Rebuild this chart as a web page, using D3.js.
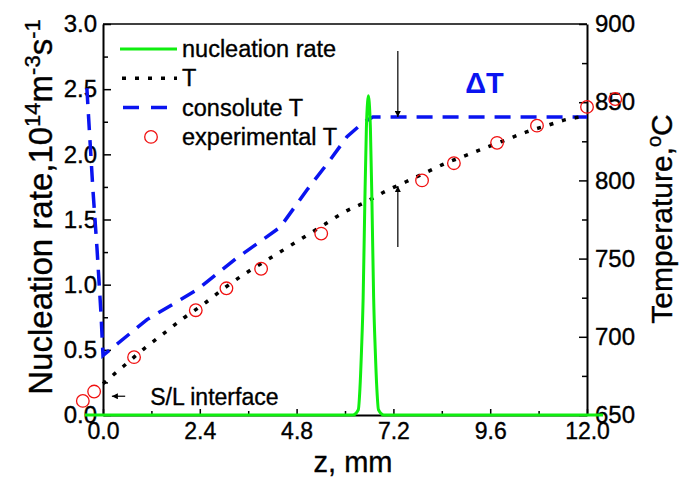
<!DOCTYPE html>
<html>
<head>
<meta charset="utf-8">
<script src="https://cdn.jsdelivr.net/npm/d3@7"></script>
<style>
  html, body { margin: 0; padding: 0; background: #fff; }
  svg text { font-family: "Liberation Sans", Arial, sans-serif; fill: #000; stroke: #000; stroke-width: 0.35px; }
</style>
</head>
<body>
<div id="chart"></div>
<script>
// Données
const tZ = [0, 0.5, 1, 1.5, 2, 2.5, 3, 3.5, 4, 4.5, 5, 5.5, 6, 6.5, 7, 7.5, 8, 8.5, 9, 9.5, 10, 10.5, 11, 11.5, 12];
const tVal = [670, 681, 692, 702, 712, 721, 731, 740, 748, 756, 764, 772, 780, 786, 793, 799, 805, 811, 816, 821, 826, 831, 835, 839, 841];

const consZ = [-0.40, -0.25, -0.15, -0.05, 0, 1.09, 2.33, 3.3, 4.39, 5.06, 5.63, 6.05, 6.45, 6.69, 12];
const consVal = [859, 794, 757, 715, 688, 711, 730, 750, 770, 794, 813, 828, 837, 840.5, 840.5];

const expZ = [-0.50, -0.22, 0.77, 2.30, 3.06, 3.92, 5.41, 7.91, 8.70, 9.77, 10.76, 12.0, 12.7];
const expVal = [659, 665, 687, 717, 731, 743.5, 766, 800, 811, 824, 835, 847, 852];

const nucZ = [-0.45, 6.20, 6.33, 6.37, 6.41, 6.45, 6.49, 6.53, 6.56, 6.58, 6.60, 6.63, 6.67, 6.71, 6.75, 6.79, 6.83, 6.96, 12.4];
const nucVal = [0, 0, 0.04, 0.2, 0.5, 0.9, 1.6, 2.2, 2.4, 2.45, 2.4, 2.2, 1.6, 0.9, 0.5, 0.2, 0.04, 0, 0];

const xTicks = [0, 2.4, 4.8, 7.2, 9.6, 12.0];
const leftTicks = [0, 0.5, 1.0, 1.5, 2.0, 2.5, 3.0];
const rightTicks = [650, 700, 750, 800, 850, 900];

const width = 679, height = 480;
const margin = {left: 103, right: 92, top: 24, bottom: 65};
const x0 = margin.left, x1 = width - margin.right, y0 = height - margin.bottom, y1 = margin.top;

const svg = d3.select("#chart").append("svg")
    .attr("width", width).attr("height", height);

const x = d3.scaleLinear().domain([0, 12]).range([x0, x1]);
const yL = d3.scaleLinear().domain([0, 3]).range([y0, y1]);
const yR = d3.scaleLinear().domain([650, 900]).range([y0, y1]);

// Cadre supérieur
svg.append("line").attr("x1", x0).attr("x2", x1).attr("y1", y1).attr("y2", y1)
   .attr("stroke", "#000").attr("stroke-width", 1.5);

// Axes (graduations vers l'intérieur)
function styleAxis(g, size) {
    g.selectAll("path.domain").attr("stroke", "#000").attr("stroke-width", 2);
    g.selectAll(".tick line").attr("stroke", "#000").attr("stroke-width", 1.5);
    g.selectAll(".tick text").style("font-size", size + "px").attr("fill", "#000");
}

const gx = svg.append("g").attr("transform", `translate(0,${y0})`)
   .call(d3.axisBottom(x).tickValues(xTicks).tickFormat(d3.format(".1f"))
        .tickSizeInner(-6).tickSizeOuter(0).tickPadding(7));
styleAxis(gx, 23);
gx.selectAll(".tick text").attr("dy", "0.72em");
svg.append("g").attr("transform", `translate(0,${y0})`)
   .call(d3.axisBottom(x).tickValues([1.2, 3.6, 6.0, 8.4, 10.8]).tickFormat("")
        .tickSizeInner(-4).tickSizeOuter(0))
   .call(g => { g.select(".domain").remove(); g.selectAll("line").attr("stroke", "#000").attr("stroke-width", 1.5); });

const gl = svg.append("g").attr("transform", `translate(${x0},0)`)
   .call(d3.axisLeft(yL).tickValues(leftTicks).tickFormat(d3.format(".1f"))
        .tickSizeInner(-8).tickSizeOuter(0).tickPadding(6));
styleAxis(gl, 24);
svg.append("g").attr("transform", `translate(${x0},0)`)
   .call(d3.axisLeft(yL).tickValues([0.25, 0.75, 1.25, 1.75, 2.25, 2.75]).tickFormat("")
        .tickSizeInner(-5).tickSizeOuter(0))
   .call(g => { g.select(".domain").remove(); g.selectAll("line").attr("stroke", "#000").attr("stroke-width", 1.5); });

const gr = svg.append("g").attr("transform", `translate(${x1},0)`)
   .call(d3.axisRight(yR).tickValues(rightTicks).tickFormat(d3.format("d"))
        .tickSizeInner(-8).tickSizeOuter(0).tickPadding(8));
styleAxis(gr, 24);
svg.append("g").attr("transform", `translate(${x1},0)`)
   .call(d3.axisRight(yR).tickValues([675, 725, 775, 825, 875]).tickFormat("")
        .tickSizeInner(-5).tickSizeOuter(0))
   .call(g => { g.select(".domain").remove(); g.selectAll("line").attr("stroke", "#000").attr("stroke-width", 1.5); });

// Courbes
const lineT = d3.line().x(d => x(d[0])).y(d => yR(d[1])).curve(d3.curveMonotoneX);
const lineN = d3.line().x(d => x(d[0])).y(d => yL(d[1])).curve(d3.curveMonotoneX);
const lineC = d3.line().x(d => x(d[0])).y(d => yR(d[1])).curve(d3.curveLinear);

svg.append("path").datum(consZ.map((z, i) => [z, consVal[i]]))
   .attr("d", lineC).attr("fill", "none").attr("stroke", "#0a14f0")
   .attr("stroke-width", 3.5).attr("stroke-dasharray", "16,10");

svg.append("path").datum(tZ.map((z, i) => [z, tVal[i]]))
   .attr("d", lineT).attr("fill", "none").attr("stroke", "#000")
   .attr("stroke-width", 3.5).attr("stroke-dasharray", "4,9");

svg.append("path").datum(nucZ.map((z, i) => [z, nucVal[i]]))
   .attr("d", lineN).attr("fill", "none").attr("stroke", "#10ee10")
   .attr("stroke-width", 3);

svg.selectAll("circle.exp").data(expZ.map((z, i) => [z, expVal[i]])).enter()
   .append("circle").attr("class", "exp")
   .attr("cx", d => x(d[0])).attr("cy", d => yR(d[1])).attr("r", 6.3)
   .attr("fill", "none").attr("stroke", "#f01010").attr("stroke-width", 1.3);

// Flèches ΔT
const defs = svg.append("defs");
defs.append("marker").attr("id", "ah").attr("viewBox", "0 0 10 10")
    .attr("refX", 10).attr("refY", 5).attr("markerWidth", 11).attr("markerHeight", 6)
    .attr("markerUnits", "userSpaceOnUse").attr("orient", "auto")
    .append("path").attr("d", "M0,0 L10,5 L0,10 Z").attr("fill", "#000");

const arrZ = 7.31;
svg.append("line").attr("x1", x(arrZ)).attr("x2", x(arrZ))
   .attr("y1", yR(882.7)).attr("y2", yR(840.5))
   .attr("stroke", "#000").attr("stroke-width", 1.2).attr("marker-end", "url(#ah)");
svg.append("line").attr("x1", x(arrZ)).attr("x2", x(arrZ))
   .attr("y1", yR(757.4)).attr("y2", yR(796.4))
   .attr("stroke", "#000").attr("stroke-width", 1.2).attr("marker-end", "url(#ah)");

svg.append("text").attr("x", x(8.98)).attr("y", yR(856))
   .style("font-size", "29px").style("font-weight", "bold")
   .style("fill", "#0a14f0").style("stroke", "none").text("ΔT");

// S/L interface
svg.append("line").attr("x1", x(0.55)).attr("x2", x(0.22))
   .attr("y1", yR(662)).attr("y2", yR(662))
   .attr("stroke", "#000").attr("stroke-width", 1.2).attr("marker-end", "url(#ah)");
svg.append("text").attr("x", x(1.17)).attr("y", 405)
   .style("font-size", "23px").text("S/L interface");

// Titres des axes
svg.append("text").attr("x", 353).attr("y", 472)
   .attr("text-anchor", "middle").style("font-size", "29px").text("z, mm");

const tl = svg.append("text")
   .attr("transform", "translate(52,207) rotate(-90)")
   .attr("text-anchor", "middle").style("font-size", "33px");
tl.append("tspan").text("Nucleation rate,10");
tl.append("tspan").attr("dy", -12).style("font-size", "22px").text("14");
tl.append("tspan").attr("dy", 12).text("m");
tl.append("tspan").attr("dy", -12).style("font-size", "22px").text("-3");
tl.append("tspan").attr("dy", 12).text("s");
tl.append("tspan").attr("dy", -12).style("font-size", "22px").text("-1");

const tr = svg.append("text")
   .attr("transform", "translate(672,219) rotate(-90)")
   .attr("text-anchor", "middle").style("font-size", "30px");
tr.append("tspan").text("Temperature,");
tr.append("tspan").attr("dy", -11).style("font-size", "20px").text("o");
tr.append("tspan").attr("dy", 11).text("C");

// Légende
const legend = [
    {label: "nucleation rate", type: "line"},
    {label: "T", type: "dot"},
    {label: "consolute T", type: "dash"},
    {label: "experimental T", type: "circle"}
];
const lg = svg.append("g");
legend.forEach((d, i) => {
    const yy = 49 + i * 29.3;
    if (d.type === "line") {
        lg.append("line").attr("x1", 120).attr("x2", 177).attr("y1", yy).attr("y2", yy)
          .attr("stroke", "#10ee10").attr("stroke-width", 3);
    } else if (d.type === "dot") {
        lg.append("line").attr("x1", 122).attr("x2", 177).attr("y1", yy).attr("y2", yy)
          .attr("stroke", "#000").attr("stroke-width", 3.5).attr("stroke-dasharray", "4,9");
    } else if (d.type === "dash") {
        lg.append("line").attr("x1", 123).attr("x2", 177).attr("y1", yy).attr("y2", yy)
          .attr("stroke", "#0a14f0").attr("stroke-width", 3.5).attr("stroke-dasharray", "16,12");
    } else {
        lg.append("circle").attr("cx", 151).attr("cy", yy).attr("r", 6.3)
          .attr("fill", "none").attr("stroke", "#f01010").attr("stroke-width", 1.3);
    }
    lg.append("text").attr("x", 182).attr("y", yy + 8).style("font-size", "23.5px").text(d.label);
});
</script>
</body>
</html>
